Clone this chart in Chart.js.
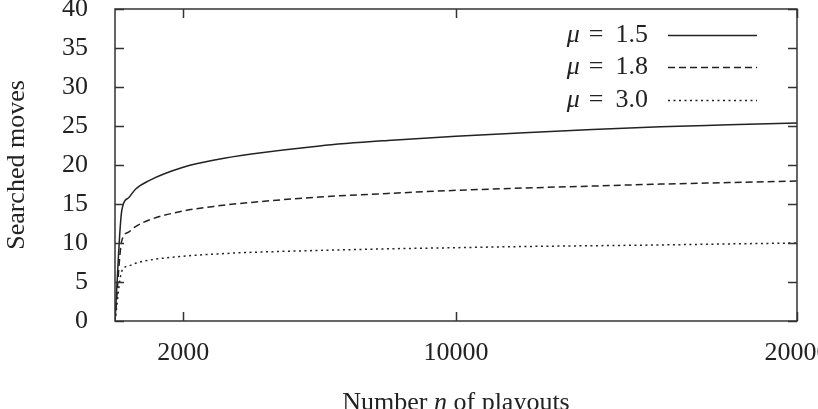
<!DOCTYPE html>
<html>
<head>
<meta charset="utf-8">
<script src="https://cdn.jsdelivr.net/npm/chart.js@4.4.1/dist/chart.umd.min.js"></script>
<style>
  html, body { margin: 0; padding: 0; background: #fff; overflow: hidden; }
  #wrap { width: 840px; height: 409px; position: relative; }
</style>
</head>
<body>
<div id="wrap"><canvas id="grafico"></canvas></div>
<script>
// numero de playouts (eje x)
const playouts = [0, 200, 400, 600, 1000, 2000, 3000, 4000, 6000, 8000, 10000, 12000, 14000, 16000, 18000, 20000];
// jugadas buscadas para cada mu
const mu15 = [0, 14.2, 15.8, 16.9, 18.0, 19.7, 20.7, 21.4, 22.45, 23.15, 23.7, 24.15, 24.55, 24.9, 25.15, 25.4];
const mu18 = [0, 10.3, 11.4, 12.1, 12.95, 14.1, 14.75, 15.2, 15.9, 16.35, 16.75, 17.05, 17.3, 17.55, 17.75, 17.95];
const mu30 = [0, 6.4, 7.05, 7.4, 7.8, 8.3, 8.6, 8.8, 9.05, 9.25, 9.4, 9.55, 9.65, 9.75, 9.88, 10.0];

const etiquetas = ['μ = 1.5', 'μ = 1.8', 'μ = 3.0'];
const ticksX = [2000, 10000, 20000];

const FUENTE = 'Liberation Serif, Times New Roman, serif';
const TINTA = '#222';

const puntos = ys => playouts.map((x, i) => ({ x: x, y: ys[i] }));

// marco con marcas hacia dentro, como gnuplot
const marco = {
  id: 'marco',
  afterDraw(chart) {
    const { ctx, chartArea: a, scales } = chart;
    ctx.save();
    ctx.strokeStyle = '#333';
    ctx.lineWidth = 1.5;
    ctx.strokeRect(a.left, a.top, a.right - a.left, a.bottom - a.top);
    const largo = 9;
    ctx.beginPath();
    scales.y.ticks.forEach(t => {
      const py = Math.round(scales.y.getPixelForValue(t.value)) + 0.5;
      ctx.moveTo(a.left, py); ctx.lineTo(a.left + largo, py);
      ctx.moveTo(a.right, py); ctx.lineTo(a.right - largo, py);
    });
    scales.x.ticks.forEach(t => {
      const px = Math.round(scales.x.getPixelForValue(t.value)) + 0.5;
      ctx.moveTo(px, a.bottom); ctx.lineTo(px, a.bottom - largo);
      ctx.moveTo(px, a.top); ctx.lineTo(px, a.top + largo);
    });
    ctx.stroke();
    ctx.restore();
  }
};

// leyenda dentro del grafico, arriba a la derecha
const leyenda = {
  id: 'leyenda',
  afterDraw(chart) {
    const { ctx } = chart;
    const filas = [35, 67, 100];
    ctx.save();
    ctx.textBaseline = 'middle';
    ctx.textAlign = 'right';
    ctx.fillStyle = TINTA;
    chart.data.datasets.forEach((ds, i) => {
      const y = filas[i];
      const valor = ds.label.split('=')[1].trim();
      ctx.font = '26px ' + FUENTE;
      let x = 648;
      ctx.fillText(valor, x, y);
      x -= ctx.measureText(valor).width + 12;
      ctx.fillText('=', x, y);
      x -= ctx.measureText('=').width + 9;
      ctx.font = 'italic 26px ' + FUENTE;
      ctx.fillText('μ', x, y);
      ctx.strokeStyle = ds.borderColor;
      ctx.lineWidth = ds.borderWidth;
      ctx.setLineDash(ds.borderDash || []);
      ctx.beginPath();
      ctx.moveTo(668, y + 0.5);
      ctx.lineTo(757, y + 0.5);
      ctx.stroke();
    });
    ctx.restore();
  }
};

// titulo del eje x con la n en cursiva
const tituloX = {
  id: 'tituloX',
  afterDraw(chart) {
    const { ctx, chartArea: a } = chart;
    const partes = [['Number ', ''], ['n', 'italic '], [' of playouts', '']];
    ctx.save();
    ctx.textBaseline = 'alphabetic';
    ctx.fillStyle = TINTA;
    let total = 0;
    partes.forEach(p => { ctx.font = p[1] + '26px ' + FUENTE; total += ctx.measureText(p[0]).width; });
    let x = (a.left + a.right) / 2 - total / 2;
    partes.forEach(p => {
      ctx.font = p[1] + '26px ' + FUENTE;
      ctx.fillText(p[0], x, 410);
      x += ctx.measureText(p[0]).width;
    });
    ctx.restore();
  }
};

const comun = { borderColor: TINTA, borderWidth: 1.5, pointRadius: 0, fill: false, cubicInterpolationMode: 'monotone' };

new Chart(document.getElementById('grafico'), {
  type: 'line',
  data: {
    datasets: [
      Object.assign({ label: etiquetas[0], data: puntos(mu15), borderDash: [] }, comun),
      Object.assign({ label: etiquetas[1], data: puntos(mu18), borderDash: [7, 4] }, comun),
      Object.assign({ label: etiquetas[2], data: puntos(mu30), borderDash: [2, 3.5] }, comun)
    ]
  },
  options: {
    responsive: true,
    maintainAspectRatio: false,
    animation: false,
    layout: { padding: { top: 9, left: 0, right: 43, bottom: 0 } },
    plugins: { legend: { display: false }, tooltip: { enabled: false } },
    scales: {
      x: {
        type: 'linear',
        min: 0,
        max: 20000,
        afterBuildTicks: s => { s.ticks = ticksX.map(v => ({ value: v })); },
        afterFit: s => { s.height = 88; s.paddingLeft = 0; s.paddingRight = 0; },
        grid: { display: false },
        border: { display: false },
        ticks: {
          color: TINTA,
          padding: 9,
          maxRotation: 0,
          font: { family: FUENTE, size: 26 },
          callback: v => String(v)
        }
      },
      y: {
        min: 0,
        max: 40,
        afterFit: s => { s.width = 115; s.paddingTop = 0; s.paddingBottom = 0; },
        grid: { display: false },
        border: { display: false },
        ticks: {
          stepSize: 5,
          color: TINTA,
          padding: 19,
          font: { family: FUENTE, size: 26 }
        },
        title: {
          display: true,
          text: 'Searched moves',
          color: TINTA,
          padding: { top: 2, bottom: 0 },
          font: { family: FUENTE, size: 26 }
        }
      }
    }
  },
  plugins: [marco, leyenda, tituloX]
});
</script>
</body>
</html>
